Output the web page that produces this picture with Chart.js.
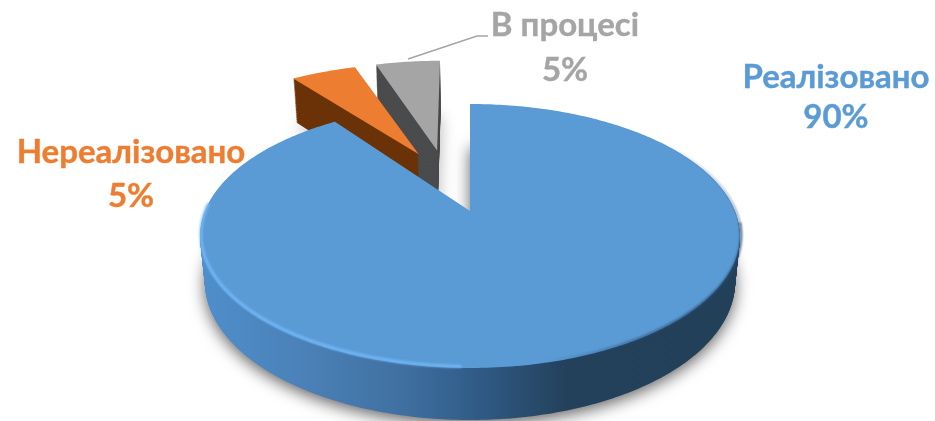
<!DOCTYPE html>
<html>
<head>
<meta charset="utf-8">
<style>
html, body { margin: 0; padding: 0; background: #fff; overflow: hidden; }
canvas { display: block; }
</style>
<script src="https://cdn.jsdelivr.net/npm/chart.js@4"></script>
</head>
<body>
<canvas id="pie" width="935" height="421"></canvas>
<script>
const categories = ['Реалізовано', 'Нереалізовано', 'В процесі'];
const shares = [90, 5, 5];
const faceColors = ['#5B9BD5', '#ED7D31', '#A5A5A5'];
const textColors = ['#5B9BD5', '#ED7D31', '#A5A5A5'];
const sideColors = [null, '#6B3308', '#4A4B4D'];

// where the pie sits on the page, and how it is tilted
const cx = 471, cy = 236, rx = 270, ry = 132, tilt = -0.19;
const labelSpots = [[836, 88, 128], [131, 163, 207], [565, 36, 81]];

function project(X, Y, h, look)
{
	let w = 1 + tilt * Y;
	let sx = cx + rx * X * Math.sqrt(1 - tilt * tilt) / w + look.nudge;
	let sy = cy + ry * (Y + tilt) / w;
	let depth = (38 + (sy - 60) / 308 * 14) * look.sink;
	return [sx + (cx - sx) * 0.018 * h, sy + depth * h];
}

function tracePath(ctx, el, h, look)
{
	let p = el.getProps(['startAngle', 'endAngle', 'outerRadius']);
	let mid = (p.startAngle + p.endAngle) / 2;
	let shift = (el.options.offset || 0) / 4 / p.outerRadius;
	let ox = Math.cos(mid) * shift, oy = Math.sin(mid) * shift;
	let steps = Math.ceil((p.endAngle - p.startAngle) / 0.015);

	ctx.beginPath();
	let q = project(ox + look.pull, oy, h, look);
	ctx.moveTo(q[0], q[1]);
	for (let i = 0; i <= steps; i++)
	{
		let a = p.startAngle + (p.endAngle - p.startAngle) * i / steps;
		q = project(ox + Math.cos(a), oy + Math.sin(a), h, look);
		ctx.lineTo(q[0], q[1]);
	}
	ctx.closePath();
}

function blueSide(ctx)
{
	let g = ctx.createLinearGradient(205, 0, 736, 0);
	g.addColorStop(0, '#4F8ECB');
	g.addColorStop(0.2, '#4A80B6');
	g.addColorStop(0.38, '#3F6F9F');
	g.addColorStop(0.52, '#2F5A85');
	g.addColorStop(0.68, '#24415C');
	g.addColorStop(1, '#234059');
	return g;
}

function strokeRim(ctx, from, to, blur, width, lift, style)
{
	let plain = { nudge: 0, sink: 1, pull: 0 };

	ctx.save();
	ctx.filter = 'blur(' + blur + 'px)';
	ctx.strokeStyle = style;
	ctx.lineWidth = width;
	ctx.beginPath();
	for (let a = from; a < to; a += 0.015)
	{
		let q = project(Math.cos(a), Math.sin(a), 0, plain);
		ctx.lineTo(q[0], q[1] - lift);
	}
	ctx.stroke();
	ctx.restore();
}

function rimLight(ctx)
{
	let light = ctx.createLinearGradient(201, 0, 741, 0);
	light.addColorStop(0, 'rgba(115,185,250,0.9)');
	light.addColorStop(0.5, 'rgba(115,185,250,0.9)');
	light.addColorStop(0.6, 'rgba(115,185,250,0)');
	strokeRim(ctx, 1.6, Math.PI + 0.05, 1, 3, 1.5, light);

	let dark = ctx.createLinearGradient(540, 0, 741, 0);
	dark.addColorStop(0, 'rgba(40,75,110,0)');
	dark.addColorStop(0.5, 'rgba(40,75,110,0.6)');
	dark.addColorStop(1, 'rgba(40,75,110,0.85)');
	strokeRim(ctx, 0.1, 1.5, 1.2, 2.5, 1, dark);

	let edge = ctx.createLinearGradient(0, 140, 0, 240);
	edge.addColorStop(0, 'rgba(40,75,110,0)');
	edge.addColorStop(1, 'rgba(40,75,110,0.85)');
	strokeRim(ctx, -0.7, 0.12, 0.8, 1.5, 0, edge);
}

const pie3d = {
	id: 'pie3d',
	beforeDatasetsDraw(chart)
	{
		let ctx = chart.ctx;
		let arcs = chart.getDatasetMeta(0).data;
		let looks = [
			{ nudge: -1, sink: 1, pull: 0 },
			{ nudge: 0, sink: 1.13, pull: 0.033 },
			{ nudge: -14, sink: 1.35, pull: 0 }
		];

		// back to front: the grey slice sits behind the orange one
		[2, 1, 0].forEach(function(i)
		{
			let fill = i === 0 ? blueSide(ctx) : sideColors[i];

			ctx.save();
			ctx.shadowColor = i === 0 ? 'rgba(0,0,0,0.62)' : 'rgba(0,0,0,0.3)';
			ctx.shadowBlur = 16;
			ctx.shadowOffsetY = 4;
			ctx.fillStyle = fill;
			tracePath(ctx, arcs[i], 1, looks[i]);
			ctx.fill();
			ctx.restore();

			ctx.fillStyle = fill;
			for (let h = 0.98; h > 0; h -= 0.02)
			{
				tracePath(ctx, arcs[i], h, looks[i]);
				ctx.fill();
			}

			ctx.fillStyle = faceColors[i];
			tracePath(ctx, arcs[i], 0, looks[i]);
			ctx.fill();
		});

		rimLight(ctx);
		return false;
	},
	afterDraw(chart)
	{
		let ctx = chart.ctx;

		ctx.save();
		ctx.strokeStyle = '#A5A5A5';
		ctx.lineWidth = 1.5;
		ctx.beginPath();
		ctx.moveTo(408, 59);
		ctx.lineTo(477, 36);
		ctx.lineTo(488, 36);
		ctx.stroke();

		ctx.font = 'bold 33px Lato, "Open Sans", sans-serif';
		ctx.textAlign = 'center';
		ctx.lineWidth = 0.4;
		categories.forEach(function(name, i)
		{
			ctx.fillStyle = textColors[i];
			ctx.strokeStyle = textColors[i];
			ctx.fillText(name, labelSpots[i][0], labelSpots[i][1]);
			ctx.strokeText(name, labelSpots[i][0], labelSpots[i][1]);
			ctx.fillText(shares[i] + '%', labelSpots[i][0], labelSpots[i][2]);
			ctx.strokeText(shares[i] + '%', labelSpots[i][0], labelSpots[i][2]);
		});
		ctx.restore();
	}
};

new Chart(document.getElementById('pie').getContext('2d'), {
	type: 'pie',
	data: {
		labels: categories,
		datasets: [{
			data: shares,
			backgroundColor: faceColors,
			borderWidth: 0,
			offset: [0, 220, 212]
		}]
	},
	options: {
		responsive: false,
		animation: false,
		plugins: {
			legend: { display: false },
			tooltip: { enabled: false }
		}
	},
	plugins: [pie3d]
});
</script>
</body>
</html>
